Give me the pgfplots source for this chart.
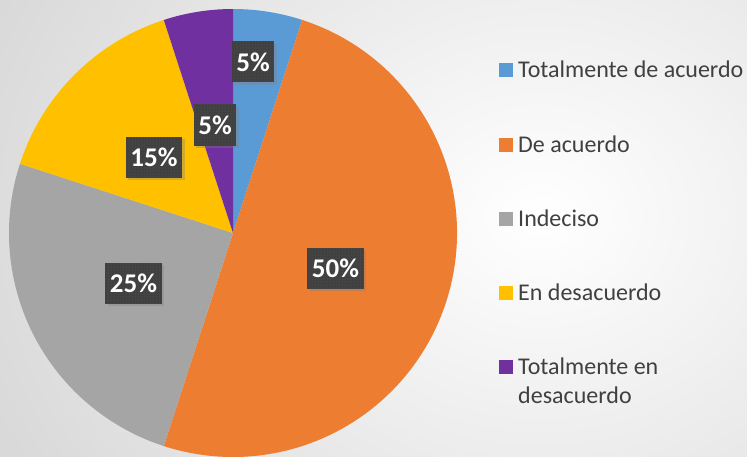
\documentclass[border=0pt]{standalone}
\usepackage{pgfplots}
\pgfplotsset{compat=1.18}
\usepackage{fontspec}
\setmainfont{Carlito}
\usetikzlibrary{shadows,patterns}
\definecolor{cA}{HTML}{5B9BD5}
\definecolor{cB}{HTML}{ED7D31}
\definecolor{cC}{HTML}{A5A5A5}
\definecolor{cD}{HTML}{FFC000}
\definecolor{cE}{HTML}{7030A0}
\definecolor{lab}{HTML}{404040}
\definecolor{txt}{HTML}{404040}
\tikzset{lbl/.style={fill=lab, text=white, font=\fontsize{27}{30}\selectfont\bfseries,
  inner xsep=4.5pt, inner ysep=0pt, minimum height=41pt,
  drop shadow={shadow xshift=2.5pt, shadow yshift=-2.5pt, opacity=0.35},
  postaction={pattern=dots, pattern color=black!62}}}
\begin{document}
\begin{tikzpicture}
\path[use as bounding box] (0,0) rectangle (747pt,456pt);
\begin{scope}
\clip (0,0) rectangle (747pt,456pt);
\shade[inner color=white, outer color=black!15] (-60pt,-260pt) rectangle (1140pt,740pt);
\end{scope}
\begin{axis}[x=1pt,y=1pt,xmin=0,xmax=747,ymin=0,ymax=456,hide axis,
  anchor=south west, at={(0pt,0pt)}, clip=false]
\pgfplotsextra{
  \gdef\cum{0}
  \foreach \v/\c in {5/cA,50/cB,25/cC,15/cD,5/cE}{
    \pgfmathsetmacro\aone{90-3.6*\cum}
    \pgfmathsetmacro\atwo{90-3.6*(\cum+\v)}
    \fill[\c] (axis cs:233,223) -- ++(\aone:224pt) arc[start angle=\aone, end angle=\atwo, radius=224pt] -- cycle;
    \pgfmathsetmacro\nc{\cum+\v}
    \global\let\cum\nc
  }
  \node[lbl] at (axis cs:253,394) {5\%};
  \node[lbl] at (axis cs:215,331) {5\%};
  \node[lbl] at (axis cs:154,299) {15\%};
  \node[lbl] at (axis cs:133.5,173) {25\%};
  \node[lbl] at (axis cs:335.5,188) {50\%};
  \foreach \c/\sy/\by/\t in {cA/385.5/378.5/Totalmente de acuerdo, cB/311/304/De acuerdo, cC/237/230/Indeciso, cD/163.5/156/En desacuerdo, cE/89.5/82/Totalmente en}{
    \fill[\c] (axis cs:499,\sy-7) rectangle (axis cs:513,\sy+7);
    \node[anchor=base west, inner sep=0pt, text=txt, font=\fontsize{24}{29}\selectfont] at (axis cs:518,\by) {\t};
  }
  \node[anchor=base west, inner sep=0pt, text=txt, font=\fontsize{24}{29}\selectfont] at (axis cs:518,53) {desacuerdo};
}
\end{axis}
\end{tikzpicture}
\end{document}
